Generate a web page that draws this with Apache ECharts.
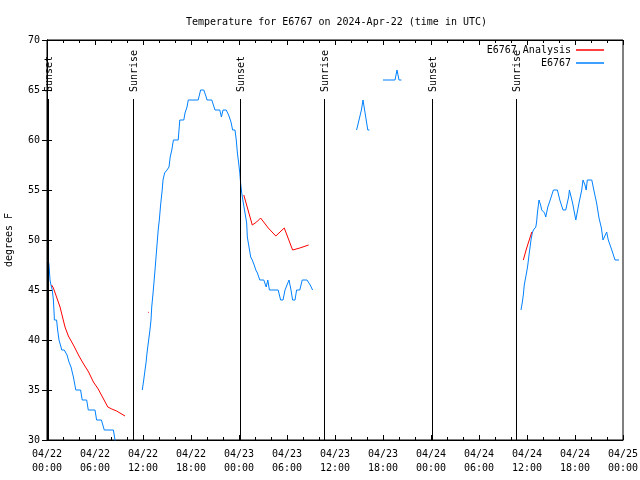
<!DOCTYPE html>
<html>
<head>
<meta charset="utf-8">
<script src="https://cdn.jsdelivr.net/npm/echarts@6/dist/echarts.min.js"></script>
<style>html,body{margin:0;padding:0;background:#fff;}#chart{width:640px;height:480px;}</style>
</head>
<body>
<div id="chart"></div>
<script>
// ---- data (hours since 2024-04-22 00:00 UTC, degrees F) ----
const titleText = 'Temperature for E6767 on 2024-Apr-22 (time in UTC)';
const yAxisName = 'degrees F';
const seriesNames = ['E6767 Analysis', 'E6767'];

const e6767Obs = [
  [0.16,48],[0.25,47.5],[0.375,46],[0.5,45.5],[0.66,45],[0.8,44],[0.9,42.5],[0.92,42],[1.2,42],[1.33,41],[1.5,40],[1.75,39.3],[1.84,39],[2.16,39],[2.5,38.5],[2.75,37.8],[3.0,37.3],[3.3,36.3],[3.6,35],[4.2,35],[4.4,34],[4.96,34],[5.16,33],[6.0,33],[6.2,32],[6.8,32],[7.16,31],[8.3,31],[8.5,30],[8.6,29],
  null,
  [11.91,35],[12.09,36],[12.25,37],[12.375,37.7],[12.5,38.7],[12.66,39.7],[12.79,40.5],[12.91,41.3],[13.0,42],[13.09,43.3],[13.21,44.3],[13.29,45],[13.5,47],[13.7,49],[13.9,51],[14.04,52],[14.2,53.5],[14.4,55],[14.5,56],[14.7,56.7],[15.0,57],[15.25,57.3],[15.4,58.3],[15.6,59],[15.8,60],[16.4,60],[16.5,61],[16.6,62],[17.1,62],[17.25,62.7],[17.5,63.3],[17.66,64],[18.9,64],[19.2,65],[19.6,65],[19.9,64.3],[20.0,64],[20.6,64],[20.8,63.5],[21.0,63],[21.6,63],[21.8,62.3],[22.0,63],[22.4,63],[22.7,62.5],[23.0,61.8],[23.2,61],[23.5,61],[23.66,60],[23.8,58.7],[23.96,57.7],[24.1,56.7],[24.2,55.7],[24.34,54.7],[24.54,53.7],[24.75,52.7],[24.96,51.7],[25.04,50.3],[25.25,49.3],[25.46,48.3],[25.66,48],[25.9,47.5],[26.1,47],[26.3,46.7],[26.6,46],[27.1,46],[27.4,45.3],[27.6,46],[27.8,45],[28.9,45],[29.2,44],[29.5,44],[29.75,45],[30.1,45.7],[30.25,46],[30.5,45],[30.7,44],[31.0,44],[31.2,45],[31.6,45],[31.9,46],[32.5,46],[32.9,45.5],[33.2,45],
  null,
  [38.7,61],[39.0,62],[39.3,63],[39.5,64],[39.84,62.3],[40.1,61],[40.3,61],
  null,
  [42.0,66],[43.5,66],[43.75,67],[44.0,66],[44.3,66],
  null,
  [59.25,43],[59.4,43.7],[59.54,44.5],[59.66,45.5],[59.84,46.3],[59.96,46.8],[60.1,47.5],[60.25,48.5],[60.5,50],[60.66,50.7],[60.8,51],[61.1,51.3],[61.2,51.8],[61.3,52.7],[61.5,54],[61.7,53.5],[61.84,53],[62.0,53],[62.2,52.7],[62.34,52.3],[62.6,53.3],[62.9,54],[63.1,54],[63.3,55],[63.8,55],[64.1,54],[64.5,53],[64.84,53],[65.2,54.3],[65.3,55],[65.7,53.7],[66.1,52],[66.5,53.7],[66.84,55],[67.0,56],[67.25,55.5],[67.4,55],[67.54,56],[68.1,56],[68.3,55.2],[68.7,53.7],[69.0,52.2],[69.2,52],[69.3,51.2],[69.5,50],[69.75,50],[69.96,50.8],[70.16,50],[70.6,49],[70.8,49],[71.0,48],[71.5,48]
];

const e6767Analysis = [
  [0.58,45.5],[0.8,45.2],[1.63,43.3],[2.25,41.3],[2.67,40.4],[3.3,39.5],[4.0,38.4],[4.5,37.7],[5.2,36.8],[5.8,35.8],[6.4,35.1],[7.0,34.2],[7.6,33.3],[8.1,33.1],[8.7,32.9],[9.75,32.4],
  null,
  [12.62,42.8],[12.72,42.75],
  null,
  [24.6,54.5],[25.66,51.5],[26.2,51.8],[26.7,52.2],[27.66,51.2],[28.6,50.4],[29.66,51.2],[30.7,49.0],[31.6,49.2],[32.7,49.5],
  null,
  [59.54,48],[59.96,49.2],[60.6,50.8]
];

const sunHours = [0.16, 10.79, 24.12, 34.66, 48.12, 58.62];
const sunLabels = ['Sunset', 'Sunrise', 'Sunset', 'Sunrise', 'Sunset', 'Sunrise'];
const sunLineTop = 64.1;   // top of the event lines (deg F)
const sunLabelBase = 64.8; // where the rotated label starts

const xMin = 0, xMax = 72, xStep = 6;
const yMin = 30, yMax = 70, yStep = 5;
const startDay = 22;

// ---- chart ----
const FONT = 'DejaVu Sans Mono';
const chart = echarts.init(document.getElementById('chart'), null, {renderer: 'canvas'});

function xLabel(v) {
  const day = startDay + Math.floor(v / 24);
  const hr = Math.round(v % 24);
  return '04/' + String(day).padStart(2, '0') + '\n' + String(hr).padStart(2, '0') + ':00';
}

const axisLineStyle = {color: '#000', width: 1};

const option = {
  backgroundColor: '#fff',
  animation: false,
  title: {
    text: titleText,
    left: 181, top: 12,
    textStyle: {fontFamily: FONT, fontSize: 10, fontWeight: 'normal', color: '#000'}
  },
  legend: {
    orient: 'vertical',
    right: 31, top: 39,
    align: 'right',
    itemWidth: 28, itemHeight: 1.5, itemGap: 1,
    textStyle: {fontFamily: FONT, fontSize: 10, color: '#000', lineHeight: 12},
    data: [{name: seriesNames[0], icon: 'rect'}, {name: seriesNames[1], icon: 'rect'}]
  },
  grid: {left: 47, right: 17, top: 40, bottom: 40, show: true, borderColor: '#000', borderWidth: 1,
         backgroundColor: 'transparent', containLabel: false, outerBoundsMode: 'none'},
  xAxis: [
    {
      type: 'value', min: xMin, max: xMax, interval: xStep, position: 'bottom',
      axisLine: {show: true, lineStyle: axisLineStyle},
      axisTick: {show: true, inside: true, length: 5, lineStyle: axisLineStyle},
      minorTick: {show: true, splitNumber: 3, length: 3, lineStyle: axisLineStyle},
      splitLine: {show: false},
      axisLabel: {formatter: xLabel, fontFamily: FONT, fontSize: 10, color: '#000', lineHeight: 14, margin: 7, showMinLabel: true, showMaxLabel: true}
    },
    {
      type: 'value', min: xMin, max: xMax, interval: xStep, position: 'top',
      axisLine: {show: true, lineStyle: axisLineStyle},
      axisTick: {show: true, inside: true, length: 5, lineStyle: axisLineStyle},
      minorTick: {show: true, splitNumber: 3, length: 3, lineStyle: axisLineStyle},
      splitLine: {show: false},
      axisLabel: {show: false}
    }
  ],
  yAxis: [
    {
      type: 'value', min: yMin, max: yMax, interval: yStep, position: 'left',
      name: yAxisName, nameLocation: 'middle', nameGap: 33,
      nameTextStyle: {fontFamily: FONT, fontSize: 10, color: '#000'},
      axisLine: {show: true, lineStyle: axisLineStyle},
      axisTick: {show: true, inside: true, length: 5, lineStyle: axisLineStyle},
      splitLine: {show: false},
      axisLabel: {fontFamily: FONT, fontSize: 10, color: '#000', margin: 7, showMinLabel: true, showMaxLabel: true}
    },
    {
      type: 'value', min: yMin, max: yMax, interval: yStep, position: 'right',
      axisLine: {show: true, lineStyle: axisLineStyle},
      axisTick: {show: true, inside: true, length: 5, lineStyle: axisLineStyle},
      splitLine: {show: false},
      axisLabel: {show: false}
    }
  ],
  series: [
    {
      name: seriesNames[0], type: 'line', xAxisIndex: 0, yAxisIndex: 0,
      data: e6767Analysis, showSymbol: false, symbol: 'none',
      lineStyle: {color: '#ff0000', width: 1}, itemStyle: {color: '#ff0000'},
      connectNulls: false, clip: true, z: 3
    },
    {
      name: seriesNames[1], type: 'line', xAxisIndex: 0, yAxisIndex: 0,
      data: e6767Obs, showSymbol: false, symbol: 'none',
      lineStyle: {color: '#0080ff', width: 1}, itemStyle: {color: '#0080ff'},
      connectNulls: false, clip: true, z: 2
    },
    {
      name: 'sun', type: 'custom', xAxisIndex: 0, yAxisIndex: 0,
      data: sunHours.map(h => [h, yMin]),
      clip: false, silent: true, z: 4,
      renderItem: function (params, api) {
        const h = api.value(0);
        const p0 = api.coord([h, yMin]);
        const p1 = api.coord([h, sunLineTop]);
        const pt = api.coord([h, sunLabelBase]);
        return {
          type: 'group',
          children: [
            {type: 'line', shape: {x1: Math.round(p0[0]) + 0.5, y1: p0[1], x2: Math.round(p1[0]) + 0.5, y2: p1[1]}, style: {stroke: '#000', lineWidth: 1}},
            {type: 'text', x: Math.round(pt[0]) + 1, y: pt[1], rotation: Math.PI / 2,
             style: {text: sunLabels[params.dataIndex], fontFamily: FONT, fontSize: 10, fill: '#000', align: 'left', verticalAlign: 'middle'}}
          ]
        };
      }
    }
  ]
};
chart.setOption(option);
</script>
</body>
</html>
